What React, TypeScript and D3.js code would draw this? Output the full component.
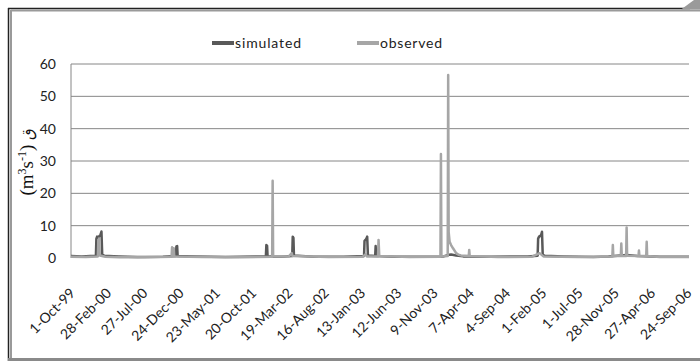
import React from "react";
import * as d3 from "d3";

const xTickLabels = [
  "1-Oct-99", "28-Feb-00", "27-Jul-00", "24-Dec-00", "23-May-01", "20-Oct-01",
  "19-Mar-02", "16-Aug-02", "13-Jan-03", "12-Jun-03", "9-Nov-03", "7-Apr-04",
  "4-Sep-04", "1-Feb-05", "1-Jul-05", "28-Nov-05", "27-Apr-06", "24-Sep-06",
];
const yTicks = [0, 10, 20, 30, 40, 50, 60];
const seriesNames = ["simulated", "observed"];
const seriesColors = ["#595959", "#a6a6a6"];

const simulated: [string, number][] = [
  ["1999-10-01", 0.6], ["1999-11-15", 0.5], ["1999-12-20", 0.6],
  ["2000-01-12", 0.7], ["2000-01-14", 6.0], ["2000-01-17", 6.6], ["2000-01-21", 6.3],
  ["2000-01-31", 7.2], ["2000-02-04", 8.2], ["2000-02-07", 1.2], ["2000-02-15", 0.7],
  ["2000-04-15", 0.5], ["2000-07-01", 0.3], ["2000-10-15", 0.4],
  ["2000-12-08", 0.6], ["2000-12-10", 3.6], ["2000-12-13", 3.7], ["2000-12-15", 0.6],
  ["2001-03-01", 0.5], ["2001-07-01", 0.3],
  ["2001-12-15", 0.5], ["2001-12-17", 4.0], ["2001-12-20", 3.8], ["2001-12-22", 0.5],
  ["2002-03-01", 0.5], ["2002-04-03", 0.6], ["2002-04-05", 6.6], ["2002-04-08", 6.2],
  ["2002-04-10", 0.8], ["2002-07-01", 0.4], ["2002-11-01", 0.4],
  ["2003-01-25", 0.6], ["2003-01-27", 5.3], ["2003-01-31", 5.6], ["2003-02-04", 6.0],
  ["2003-02-07", 6.6], ["2003-02-10", 0.8], ["2003-03-12", 0.6], ["2003-03-14", 3.7],
  ["2003-03-16", 0.6], ["2003-06-01", 0.4], ["2003-11-15", 0.4], ["2003-12-20", 0.5],
  ["2004-01-05", 0.9], ["2004-01-20", 1.1], ["2004-02-10", 0.8], ["2004-03-10", 0.5],
  ["2004-07-01", 0.4], ["2004-12-01", 0.5],
  ["2005-01-12", 0.7], ["2005-01-14", 6.0], ["2005-01-18", 6.6], ["2005-01-26", 7.0],
  ["2005-01-30", 8.1], ["2005-02-02", 1.0], ["2005-02-10", 0.7],
  ["2005-05-01", 0.5], ["2005-09-01", 0.3], ["2005-11-01", 0.5], ["2005-12-20", 0.8],
  ["2006-01-15", 0.9], ["2006-03-01", 0.6], ["2006-06-01", 0.4], ["2006-09-30", 0.4],
];

const observed: [string, number][] = [
  ["1999-10-01", 0.4], ["1999-12-01", 0.3], ["2000-01-20", 0.5], ["2000-01-22", 5.0],
  ["2000-01-25", 6.0], ["2000-01-28", 0.8], ["2000-02-20", 0.4], ["2000-04-20", 0.2],
  ["2000-08-01", 0.2], ["2000-11-20", 0.4], ["2000-11-22", 3.3], ["2000-11-24", 0.5],
  ["2000-11-27", 0.5], ["2000-11-29", 3.0], ["2000-12-01", 0.5],
  ["2001-04-01", 0.3], ["2001-09-01", 0.2], ["2002-01-10", 0.4], ["2002-01-12", 23.9],
  ["2002-01-14", 0.6], ["2002-03-20", 0.5], ["2002-04-01", 1.5], ["2002-04-04", 0.6],
  ["2002-09-01", 0.3], ["2003-01-20", 0.4], ["2003-02-01", 1.2], ["2003-02-05", 0.5],
  ["2003-03-24", 0.5], ["2003-03-26", 5.6], ["2003-03-29", 0.6], ["2003-08-01", 0.3],
  ["2003-12-07", 0.4], ["2003-12-09", 32.2], ["2003-12-11", 0.5], ["2004-01-06", 0.6],
  ["2004-01-08", 56.6], ["2004-01-10", 8.0], ["2004-01-14", 5.0], ["2004-01-20", 4.0],
  ["2004-01-28", 3.0], ["2004-02-10", 1.5], ["2004-02-20", 1.0], ["2004-03-01", 0.8],
  ["2004-04-02", 0.6], ["2004-04-04", 2.5], ["2004-04-06", 0.6], ["2004-08-01", 0.3],
  ["2004-12-20", 0.4], ["2005-01-20", 1.5], ["2005-02-05", 0.5], ["2005-07-01", 0.3],
  ["2005-11-17", 0.5], ["2005-11-19", 4.0], ["2005-11-21", 0.6], ["2005-12-22", 0.6],
  ["2005-12-24", 4.5], ["2005-12-26", 0.6], ["2006-01-13", 0.6], ["2006-01-15", 9.4],
  ["2006-01-17", 0.7], ["2006-03-05", 0.6], ["2006-03-07", 2.3], ["2006-03-09", 0.6],
  ["2006-04-06", 0.6], ["2006-04-08", 5.0], ["2006-04-10", 0.6], ["2006-06-01", 0.3],
  ["2006-09-30", 0.3],
];

const parse = d3.timeParse("%Y-%m-%d");
const tickParse = d3.timeParse("%-d-%b-%y");

export default function App() {
  const W = 700, H = 362;
  const left = 71, right = 689, top = 64, bottom = 258;
  const x = d3.scaleTime()
    .domain([parse("1999-10-01")!, parse("2006-09-30")!])
    .range([left, right]);
  const y = d3.scaleLinear().domain([0, 60]).range([bottom, top]);
  const line = d3.line<[string, number]>()
    .x((d) => x(parse(d[0])!))
    .y((d) => y(d[1]));
  const series = [simulated, observed];
  const legendX = [212, 357];
  const legendLen = [66, 62];

  return (
    <svg width={W} height={H} style={{ position: "absolute", left: 0, top: 0, background: "#fff" }}>
      {/* frame */}
      <line x1={8} x2={690} y1={8.5} y2={8.5} stroke="#222" strokeWidth={1.5} />
      <line x1={11} x2={700} y1={10.5} y2={10.5} stroke="#9a9a9a" strokeWidth={2} />
      <line x1={8.5} x2={8.5} y1={8} y2={361} stroke="#222" strokeWidth={1.5} />
      <line x1={11} x2={11} y1={10} y2={359} stroke="#9a9a9a" strokeWidth={2} />
      <line x1={8} x2={700} y1={359.5} y2={359.5} stroke="#8a8a8a" strokeWidth={3} />
      <polygon points="681,9.5 694,0 700,0 700,9.5" fill="#9a9a9a" />

      {/* grid */}
      {yTicks.filter((t) => t > 0).map((t) => (
        <line key={t} x1={left} x2={right} y1={y(t)} y2={y(t)} stroke="#868686" strokeWidth={1} />
      ))}
      <line x1={left} x2={left} y1={top} y2={bottom} stroke="#868686" strokeWidth={1} />

      {/* y ticks */}
      {yTicks.map((t) => (
        <text key={t} x={56} y={y(t)} dy="0.35em" textAnchor="end"
          fontFamily="Lato, 'Open Sans', sans-serif" fontSize={14} fill="#222">{t}</text>
      ))}

      {/* y label */}
      <text transform="translate(33,162) rotate(-90)" textAnchor="middle"
        fontFamily="'Liberation Serif', 'DejaVu Serif', serif" fontSize={19} fill="#111">
        <tspan>(m</tspan>
        <tspan dy={-7} fontSize={12}>3</tspan>
        <tspan dy={7}>s</tspan>
        <tspan dy={-7} fontSize={12}>-1</tspan>
        <tspan dy={7}>) </tspan>
        <tspan fontFamily="'DejaVu Sans', sans-serif" fontSize={15}>ق</tspan>
      </text>

      {/* x tick labels */}
      {xTickLabels.map((l) => {
        const tx = x(tickParse(l)!);
        return (
          <text key={l} transform={`translate(${tx + 5},${bottom + 36}) rotate(-45)`}
            textAnchor="end" fontFamily="Lato, 'Open Sans', sans-serif" fontSize={14} fill="#222">{l}</text>
        );
      })}

      {/* series */}
      {series.map((s, i) => (
        <path key={i} d={line(s)!} fill="none" stroke={seriesColors[i]} strokeWidth={2.5}
          strokeLinejoin="round" />
      ))}

      {/* legend */}
      {seriesNames.map((n, i) => (
        <g key={n}>
          <line x1={legendX[i]} x2={legendX[i] + 22} y1={43} y2={43} stroke={seriesColors[i]} strokeWidth={4} />
          <text x={legendX[i] + 23} y={43} dy="0.35em" fontFamily="Lato, 'Open Sans', sans-serif"
            fontSize={14} fill="#222" textLength={legendLen[i]} lengthAdjust="spacing">{n}</text>
        </g>
      ))}
    </svg>
  );
}
